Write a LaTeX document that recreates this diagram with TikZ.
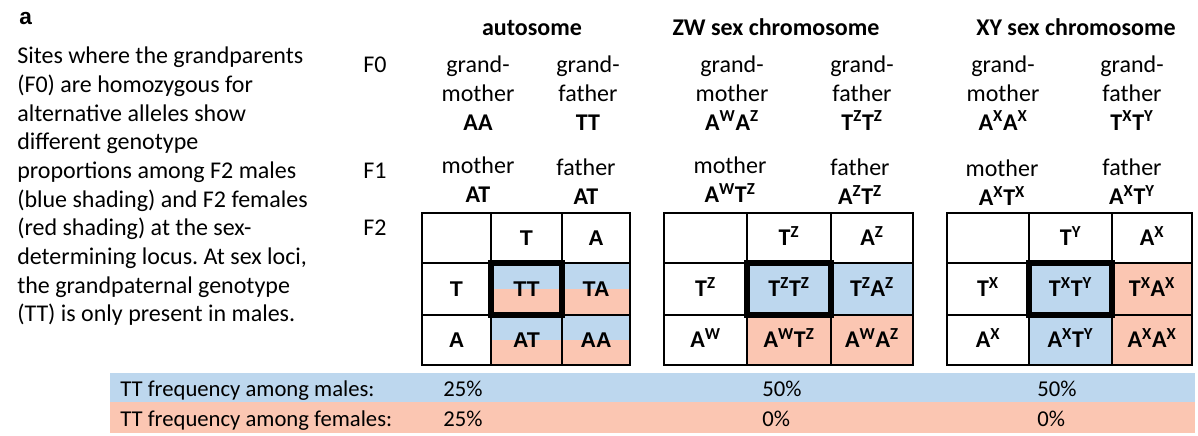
\documentclass[tikz,border=0pt]{standalone}
\usepackage{fontspec}
\setmainfont{Carlito}
\newfontfamily\arialfont{Liberation Sans}
\usetikzlibrary{positioning}
\frenchspacing

\definecolor{mblue}{HTML}{BDD7EE}
\definecolor{fpink}{HTML}{FBC6B2}

\newcommand\labfont{\fontsize{18}{21.5}\selectfont}
\newcommand\al[2]{#1\textsuperscript{#2}}

\tikzset{
  lab/.style={font=\labfont, inner sep=0pt},
  parent/.style={lab, align=center, anchor=north},
  head/.style={lab, font=\labfont\bfseries, anchor=base},
  freq/.style={inner sep=0pt, anchor=base west, font=\fontsize{17}{20}\selectfont},
  cell/.style={inner sep=0pt, anchor=base, font=\fontsize{18}{21}\selectfont\bfseries},
  acell/.style={cell, font=\fontsize{16}{19}\selectfont\arialfont\bfseries},
  grid/.style={line width=1.6pt, line cap=rect},
  ttbox/.style={line width=5.2pt, line join=miter},
}

\begin{document}
\begin{tikzpicture}[x=0.75pt, y=-0.75pt]
\useasboundingbox (0,0) rectangle (1198,435);

% panel letter and caption
\node[anchor=base west, inner sep=0pt, font=\fontsize{17}{20}\selectfont\arialfont\bfseries] (panel) at (19,25) {a};
\node[lab, align=left, anchor=north west] (caption) at (17,47) {Sites where the grandparents\\
(F0) are homozygous for\\
alternative alleles show\\
different genotype\\
proportions among F2 males\\
(blue shading) and F2 females\\
(red shading) at the sex-\\
determining locus. At sex loci,\\
the grandpaternal genotype\\
(TT) is only present in males.};

% generations
\node[lab, anchor=base west] (f0) at (363,73) {F0};
\node[lab, anchor=base west] (f1) at (363,178) {F1};
\node[lab, anchor=base west] (f2) at (363,235) {F2};

% headers
\node[head] (hau) at (532,36) {autosome};
\node[head] (hzw) at (776,36) {ZW sex chromosome};
\node[head] (hxy) at (1076,36) {XY sex chromosome};

% grandparents
\node[parent] (gmau) at (478,56) {grand-\\mother\\\textbf{AA}};
\node[parent] (gfau) at (588,56) {grand-\\father\\\textbf{TT}};
\node[parent] (gmzw) at (732,56) {grand-\\mother\\\textbf{\al{A}{W}\al{A}{Z}}};
\node[parent] (gfzw) at (862,56) {grand-\\father\\\textbf{\al{T}{Z}\al{T}{Z}}};
\node[parent] (gmxy) at (1003,56) {grand-\\mother\\\textbf{\al{A}{X}\al{A}{X}}};
\node[parent] (gfxy) at (1132,56) {grand-\\father\\\textbf{\al{T}{X}\al{T}{Y}}};

% parents
\node[parent] (mau) at (478,157) {mother\\\textbf{AT}};
\node[parent] (fau) at (586,159) {father\\\textbf{AT}};
\node[parent] (mzw) at (730,157) {mother\\\textbf{\al{A}{W}\al{T}{Z}}};
\node[parent] (fzw) at (860,159) {father\\\textbf{\al{A}{Z}\al{T}{Z}}};
\node[parent] (mxy) at (1002,160) {mother\\\textbf{\al{A}{X}\al{T}{X}}};
\node[parent] (fxy) at (1132,159) {father\\\textbf{\al{A}{X}\al{T}{Y}}};

% shading: autosome half and half
\foreach \xa/\xb in {491/562, 562/630}
{
	\fill[mblue] (\xa,263) rectangle (\xb,289);
	\fill[fpink] (\xa,289) rectangle (\xb,315);
	\fill[mblue] (\xa,315) rectangle (\xb,340);
	\fill[fpink] (\xa,340) rectangle (\xb,365);
}
% shading: ZW by row, XY by column
\fill[mblue] (747,263) rectangle (913,315);
\fill[fpink] (747,315) rectangle (913,365);
\fill[mblue] (1029,263) rectangle (1112,365);
\fill[fpink] (1112,263) rectangle (1192,365);

% the three punnett grids
\foreach \xa/\xb/\xc/\xd in {422/491/562/630, 664/747/831/913, 947/1029/1112/1192}
{
	\foreach \xx in {\xa,\xb,\xc,\xd} \draw[grid] (\xx,213) -- (\xx,365);
	\foreach \yy in {213,263,315,365} \draw[grid] (\xa,\yy) -- (\xd,\yy);
	\draw[ttbox] (\xb,263) rectangle (\xc,315);
}

% autosome cells
\node[acell] (au01) at (526.5,245.5) {T};
\node[acell] (au02) at (596,245.5) {A};
\node[acell] (au10) at (456.5,296.5) {T};
\node[acell] (au11) at (526.5,296.5) {TT};
\node[acell] (au12) at (596,296.5) {TA};
\node[acell] (au20) at (456.5,347.5) {A};
\node[acell] (au21) at (526.5,347.5) {AT};
\node[acell] (au22) at (596,347.5) {AA};

% ZW cells
\node[cell] (zw01) at (789,245.5) {\al{T}{Z}};
\node[cell] (zw02) at (872,245.5) {\al{A}{Z}};
\node[cell] (zw10) at (705.5,296.5) {\al{T}{Z}};
\node[cell] (zw11) at (789,296.5) {\al{T}{Z}\al{T}{Z}};
\node[cell] (zw12) at (872,296.5) {\al{T}{Z}\al{A}{Z}};
\node[cell] (zw20) at (705.5,347.5) {\al{A}{W}};
\node[cell] (zw21) at (789,347.5) {\al{A}{W}\al{T}{Z}};
\node[cell] (zw22) at (872,347.5) {\al{A}{W}\al{A}{Z}};

% XY cells
\node[cell] (xy01) at (1070.5,245.5) {\al{T}{Y}};
\node[cell] (xy02) at (1152,245.5) {\al{A}{X}};
\node[cell] (xy10) at (988,296.5) {\al{T}{X}};
\node[cell] (xy11) at (1070.5,296.5) {\al{T}{X}\al{T}{Y}};
\node[cell] (xy12) at (1152,296.5) {\al{T}{X}\al{A}{X}};
\node[cell] (xy20) at (988,347.5) {\al{A}{X}};
\node[cell] (xy21) at (1070.5,347.5) {\al{A}{X}\al{T}{Y}};
\node[cell] (xy22) at (1152,347.5) {\al{A}{X}\al{A}{X}};

% frequency bars
\fill[mblue] (110,373) rectangle (1195,402);
\fill[fpink] (110,402) rectangle (1195,433);
\node[freq] (males) at (120,396) {TT frequency among males:};
\node[freq] (females) at (120,426) {TT frequency among females:};
\node[freq] (pmau) at (443,396) {25\%};
\node[freq] (pmzw) at (762,396) {50\%};
\node[freq] (pmxy) at (1037,396) {50\%};
\node[freq] (pfau) at (443,426) {25\%};
\node[freq] (pfzw) at (762,426) {0\%};
\node[freq] (pfxy) at (1037,426) {0\%};

\end{tikzpicture}
\end{document}
